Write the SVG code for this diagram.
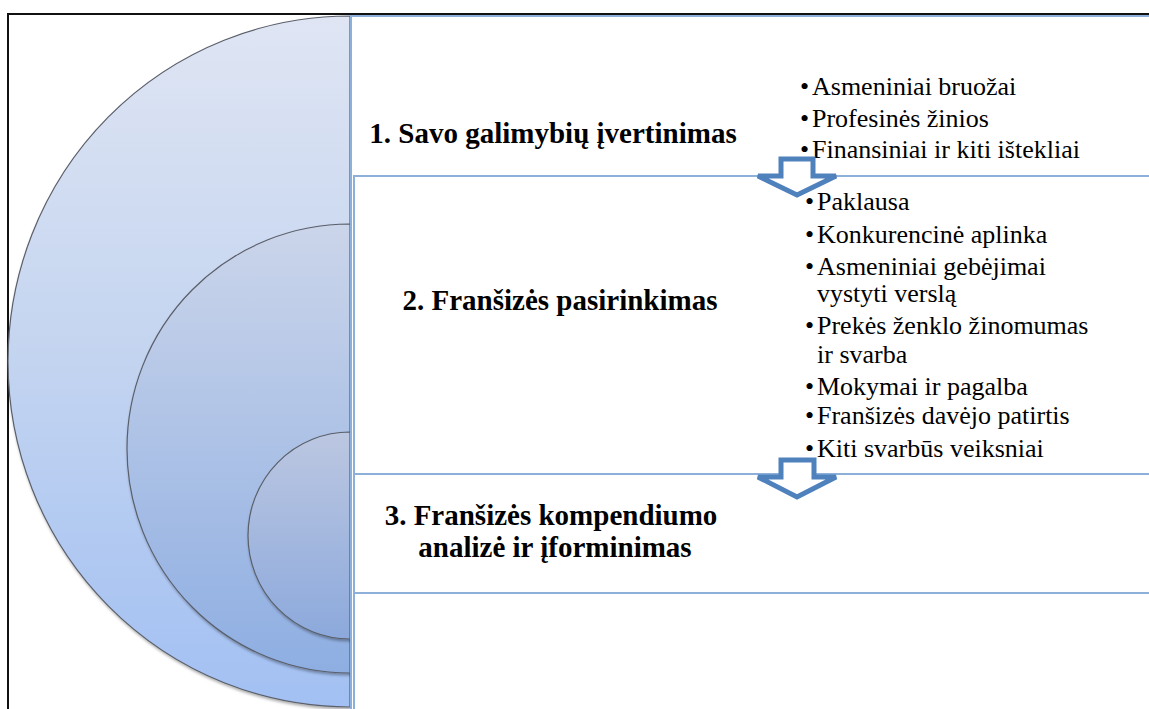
<svg xmlns="http://www.w3.org/2000/svg" width="1149" height="709" viewBox="0 0 1149 709">
  <style>
    .title { font-family: "Liberation Serif", "Times New Roman", serif; font-weight: bold; font-size: 29px; fill: #000; text-anchor: middle; }
    .item { font-family: "Liberation Serif", "Times New Roman", serif; font-size: 26px; fill: #000; }
    .ring { stroke: #5a5f6a; stroke-width: 1.2; filter: url(#shade); }
    .panel { fill: #fff; stroke: #8db0da; stroke-width: 2; }
    .arrow { fill: #fff; stroke: #4f81bd; stroke-width: 5; stroke-linejoin: miter; }
  </style>
  <defs>
    <linearGradient id="gOuter" x1="0" y1="0" x2="0" y2="1">
      <stop offset="0" stop-color="#dfe5f3"/>
      <stop offset="0.5" stop-color="#c3d4f0"/>
      <stop offset="1" stop-color="#a2c0f3"/>
    </linearGradient>
    <linearGradient id="gMid" x1="0" y1="0" x2="0" y2="1">
      <stop offset="0" stop-color="#cbd5ea"/>
      <stop offset="1" stop-color="#8eaee2"/>
    </linearGradient>
    <linearGradient id="gInner" x1="0" y1="0" x2="0" y2="1">
      <stop offset="0" stop-color="#bcc7e1"/>
      <stop offset="1" stop-color="#8ca9dc"/>
    </linearGradient>
    <filter id="shade" x="-10%" y="-10%" width="130%" height="130%">
      <feDropShadow dx="1" dy="2" stdDeviation="1.5" flood-color="#000" flood-opacity="0.35"/>
    </filter>
  </defs>

  <rect width="1149" height="709" fill="#fff"/>

  <!-- outer frame -->
  <rect x="8" y="14" width="1160" height="720" fill="none" stroke="#111" stroke-width="2"/>

  <!-- nested target rings -->
  <g id="ring-outer">
    <path class="ring" d="M350,16 A342,345.5 0 0 0 350,707 Z" fill="url(#gOuter)"/>
  </g>
  <g id="ring-middle">
    <path class="ring" d="M350,224 A223,224.5 0 0 0 350,673 Z" fill="url(#gMid)"/>
  </g>
  <g id="ring-inner">
    <path class="ring" d="M350,432 A102,103.5 0 0 0 350,639 Z" fill="url(#gInner)"/>
  </g>

  <!-- text panels -->
  <g id="panel-1">
    <rect class="panel" x="351" y="16" width="820" height="720" stroke="#5b8ac6"/>
    <text class="title" x="553" y="143">1. Savo galimybių įvertinimas</text>
    <g class="item">
      <text x="800" y="95">•</text><text x="812" y="95">Asmeniniai bruožai</text>
      <text x="800" y="127">•</text><text x="812" y="127">Profesinės žinios</text>
      <text x="800" y="158">•</text><text x="812" y="158">Finansiniai ir kiti ištekliai</text>
    </g>
  </g>
  <g id="panel-2">
    <rect class="panel" x="354" y="176" width="820" height="560"/>
    <text class="title" x="560" y="310">2. Franšizės pasirinkimas</text>
    <g class="item">
      <text x="805" y="210">•</text><text x="817" y="210">Paklausa</text>
      <text x="805" y="243">•</text><text x="817" y="243">Konkurencinė aplinka</text>
      <text x="805" y="275">•</text><text x="817" y="275">Asmeniniai gebėjimai</text>
      <text x="817" y="302">vystyti verslą</text>
      <text x="805" y="334">•</text><text x="817" y="334">Prekės ženklo žinomumas</text>
      <text x="817" y="363">ir svarba</text>
      <text x="805" y="395">•</text><text x="817" y="395">Mokymai ir pagalba</text>
      <text x="805" y="424">•</text><text x="817" y="424">Franšizės davėjo patirtis</text>
      <text x="805" y="457">•</text><text x="817" y="457">Kiti svarbūs veiksniai</text>
    </g>
  </g>
  <g id="panel-3">
    <rect class="panel" x="354" y="474" width="820" height="119"/>
    <text class="title" x="551" y="525">3. Franšizės kompendiumo</text>
    <text class="title" x="555" y="557">analizė ir įforminimas</text>
  </g>
  <g id="panel-4">
    <rect class="panel" x="354" y="593" width="820" height="140"/>
  </g>

  <!-- down arrows between steps -->
  <g id="connectors">
    <path class="arrow" d="M781,159 L813,159 L813,176 L836,176 L797,195 L758,176 L781,176 Z"/>
    <path class="arrow" d="M781,460 L814,460 L814,477 L836,477 L797,497 L758,477 L781,477 Z"/>
  </g>
</svg>
